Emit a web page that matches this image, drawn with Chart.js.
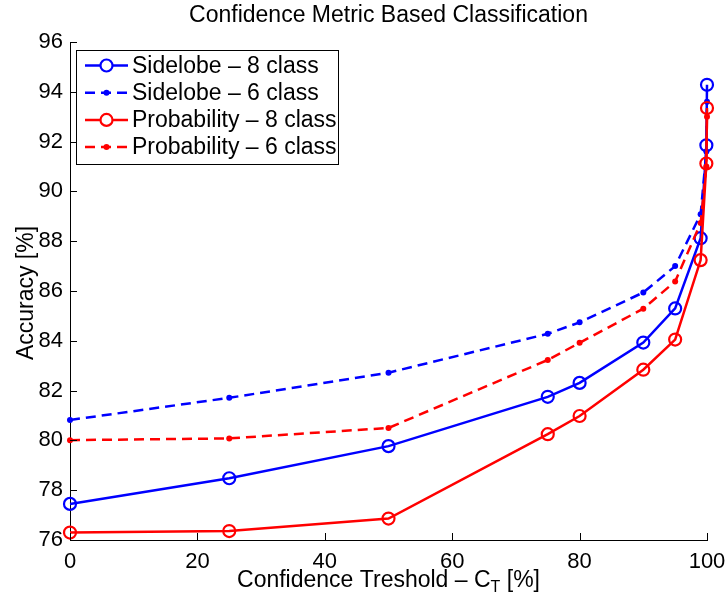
<!DOCTYPE html>
<html>
<head>
<meta charset="utf-8">
<script src="https://cdn.jsdelivr.net/npm/chart.js@4/dist/chart.umd.min.js"></script>
<style>
  html, body { margin: 0; padding: 0; background: #fff; }
  canvas { display: block; }
</style>
</head>
<body>
<canvas id="chart" width="727" height="598"></canvas>
<script>
// confidence threshold C_T [%]
const thresholds = [0, 25, 50, 75, 80, 90, 95, 99, 99.9, 100];

// accuracy [%] for each method
const sidelobe8 = [77.45, 78.48, 79.77, 81.75, 82.31, 83.93, 85.30, 88.12, 91.85, 94.28];
const sidelobe6 = [80.82, 81.71, 82.72, 84.28, 84.74, 85.94, 87.00, 89.08, 91.6, 93.6];
const probability8 = [76.30, 76.36, 76.86, 80.25, 80.98, 82.84, 84.05, 87.24, 91.12, 93.35];
const probability6 = [80.01, 80.08, 80.50, 83.23, 83.92, 85.29, 86.38, 88.73, 91.0, 93.0];

const xTicks = [0, 20, 40, 60, 80, 100];
const yTicks = [76, 78, 80, 82, 84, 86, 88, 90, 92, 94, 96];

const FONT = "'Liberation Sans', Arial, sans-serif";
const BLUE = "#0000ff";
const RED = "#ff0000";

function pts(ys) {
  return thresholds.map((x, i) => ({ x: x, y: ys[i] }));
}

function solid(label, ys, color, order) {
  return {
    label, data: pts(ys), order,
    borderColor: color, borderWidth: 2.5,
    pointStyle: "circle", pointRadius: 6, pointBorderWidth: 2.2,
    pointBackgroundColor: "rgba(255,255,255,0)", pointBorderColor: color,
    tension: 0, clip: false
  };
}

function dashed(label, ys, color, order) {
  return {
    label, data: pts(ys), order,
    borderColor: color, borderWidth: 2.5, borderDash: [10, 6],
    pointStyle: "circle", pointRadius: 3, pointBorderWidth: 0,
    pointBackgroundColor: color, pointBorderColor: color,
    tension: 0, clip: false
  };
}

// ticks pointing inwards, titles, legend box (matlab style)
const decor = {
  id: "decor",
  afterDraw(chart) {
    const { ctx, chartArea: a, scales } = chart;
    const xs = scales.x, ys = scales.y;
    ctx.save();
    ctx.strokeStyle = "#000";
    ctx.lineWidth = 1;
    ctx.beginPath();
    xTicks.forEach(v => {
      const px = Math.round(xs.getPixelForValue(v)) + 0.5;
      ctx.moveTo(px, a.bottom);
      ctx.lineTo(px, a.bottom - 7);
    });
    yTicks.forEach(v => {
      const py = Math.round(ys.getPixelForValue(v)) + 0.5;
      ctx.moveTo(a.left, py);
      ctx.lineTo(a.left + 7, py);
    });
    ctx.stroke();

    ctx.fillStyle = "#000";
    // title
    ctx.font = "23px " + FONT;
    ctx.textAlign = "center";
    ctx.textBaseline = "middle";
    ctx.fillText("Confidence Metric Based Classification", (a.left + a.right) / 2, 16);

    // y title
    ctx.save();
    ctx.translate(27, (a.top + a.bottom) / 2 + 2);
    ctx.rotate(-Math.PI / 2);
    ctx.fillText("Accuracy [%]", 0, 0);
    ctx.restore();

    // x title with subscript
    const p1 = "Confidence Treshold \u2013 C", sub = "T", p2 = " [%]";
    ctx.font = "23px " + FONT;
    const w1 = ctx.measureText(p1).width, w3 = ctx.measureText(p2).width;
    ctx.font = "16px " + FONT;
    const w2 = ctx.measureText(sub).width;
    let x0 = (a.left + a.right) / 2 - (w1 + w2 + w3) / 2;
    const yb = 587;
    ctx.textAlign = "left";
    ctx.textBaseline = "alphabetic";
    ctx.font = "23px " + FONT;
    ctx.fillText(p1, x0, yb);
    ctx.font = "16px " + FONT;
    ctx.fillText(sub, x0 + w1, yb + 5);
    ctx.font = "23px " + FONT;
    ctx.fillText(p2, x0 + w1 + w2, yb);

    // legend
    const lx = 76.5, ly = 50.5, lw = 262, lh = 114;
    ctx.fillStyle = "#fff";
    ctx.fillRect(lx, ly, lw, lh);
    ctx.strokeStyle = "#000";
    ctx.lineWidth = 1;
    ctx.strokeRect(lx, ly, lw, lh);
    chart.data.datasets.forEach((ds, i) => {
      const yy = 65.5 + i * 27.2;
      ctx.strokeStyle = ds.borderColor;
      ctx.lineWidth = ds.borderWidth;
      ctx.setLineDash(ds.borderDash || []);
      ctx.beginPath();
      ctx.moveTo(85, yy);
      ctx.lineTo(128, yy);
      ctx.stroke();
      ctx.setLineDash([]);
      ctx.beginPath();
      ctx.arc(106.5, yy, ds.pointRadius, 0, Math.PI * 2);
      if (ds.pointBorderWidth) {
        ctx.fillStyle = "#fff";
        ctx.fill();
        ctx.lineWidth = ds.pointBorderWidth;
        ctx.stroke();
      } else {
        ctx.fillStyle = ds.pointBackgroundColor;
        ctx.fill();
      }
      ctx.fillStyle = "#000";
      ctx.font = "23px " + FONT;
      ctx.textBaseline = "middle";
      ctx.fillText(ds.label, 132, yy + 1);
    });
    ctx.restore();
  }
};

new Chart(document.getElementById("chart"), {
  type: "line",
  data: {
    datasets: [
      solid("Sidelobe \u2013 8 class", sidelobe8, BLUE, 4),
      dashed("Sidelobe \u2013 6 class", sidelobe6, BLUE, 3),
      solid("Probability \u2013 8 class", probability8, RED, 2),
      dashed("Probability \u2013 6 class", probability6, RED, 1)
    ]
  },
  options: {
    responsive: false,
    animation: false,
    layout: { padding: { top: 42, right: 20, left: 0, bottom: 0 } },
    plugins: { legend: { display: false }, title: { display: false }, tooltip: { enabled: false } },
    scales: {
      x: {
        type: "linear", min: 0, max: 100,
        afterBuildTicks: s => { s.ticks = xTicks.map(v => ({ value: v })); },
        afterFit: s => { s.height = 58; s.paddingLeft = 0; s.paddingRight = 0; },
        grid: { display: true, drawOnChartArea: false, drawTicks: false },
        border: { display: true, color: "#000", width: 1 },
        ticks: { color: "#000", padding: 9, maxRotation: 0, font: { family: FONT, size: 22 } }
      },
      y: {
        type: "linear", min: 76, max: 96,
        afterBuildTicks: s => { s.ticks = yTicks.map(v => ({ value: v })); },
        afterFit: s => { s.width = 70; s.paddingTop = 0; s.paddingBottom = 0; },
        grid: { display: true, drawOnChartArea: false, drawTicks: false },
        border: { display: true, color: "#000", width: 1 },
        ticks: { color: "#000", padding: 7, font: { family: FONT, size: 22 } }
      }
    }
  },
  plugins: [decor]
});
</script>
</body>
</html>
